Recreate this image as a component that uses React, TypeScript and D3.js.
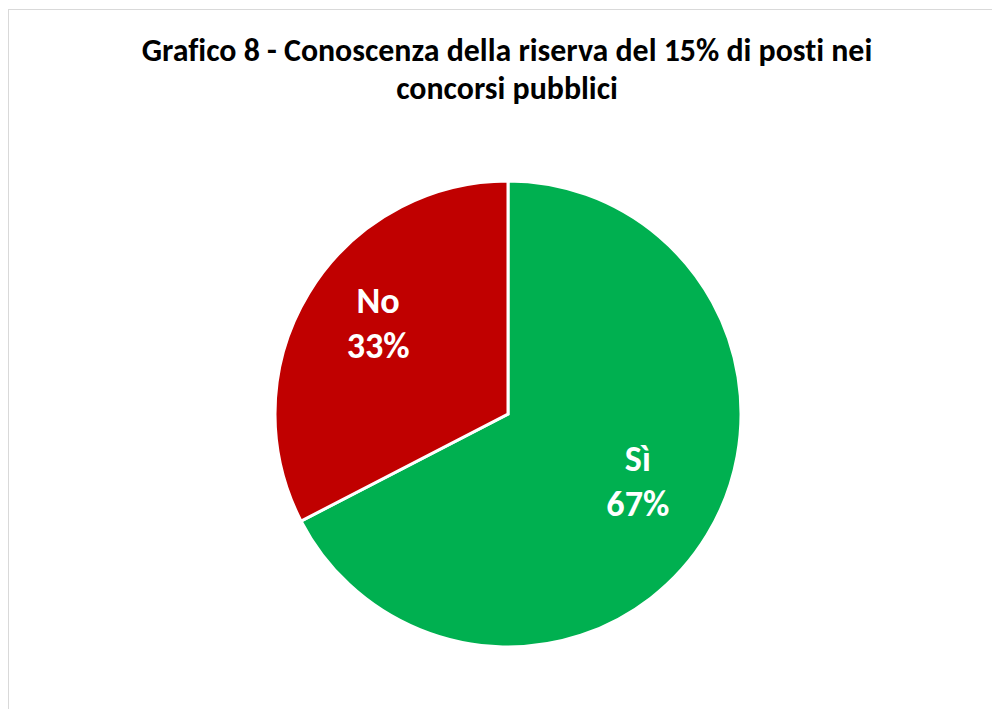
import React, { useLayoutEffect, useRef, useState } from "react";
import * as d3 from "d3";

const categories = ["Sì", "No"];
const values = [67.4, 32.6];
const colors = ["#00B050", "#C00000"];
const titleLines = [
  "Grafico 8 - Conoscenza della riserva del 15% di posti nei",
  "concorsi pubblici",
];

const W = 992;
const H = 709;
const FONT = "Carlito, Calibri, Lato, 'Open Sans', sans-serif";

export default function App() {
  const titleRef = useRef<SVGTextElement>(null);
  const labelRef = useRef<SVGTextElement>(null);
  const [titleSize, setTitleSize] = useState(27);
  const [labelSize, setLabelSize] = useState(34);

  useLayoutEffect(() => {
    document.body.style.margin = "0";
    if (titleRef.current) {
      const w = titleRef.current.getComputedTextLength();
      if (w > 0) {
        const s = (27 * 731) / w;
        if (Math.abs(s - titleSize) > 0.05) setTitleSize(s);
      }
    }
    if (labelRef.current) {
      const w = labelRef.current.getComputedTextLength();
      if (w > 0) {
        const s = (34 * 63) / w;
        if (Math.abs(s - labelSize) > 0.05) setLabelSize(s);
      }
    }
  }, []);

  const cx = 508;
  const cy = 414;
  const R = 233;
  const total = d3.sum(values);
  const data = categories.map((c, i) => ({ c, v: values[i], color: colors[i] }));
  const pie = d3.pie<any>().value((d) => d.v).sort(null);
  const arcs = pie(data);
  const arc = d3.arc<any>().innerRadius(0).outerRadius(R);
  const labelArc = d3.arc<any>().innerRadius(152).outerRadius(152);
  const noLig = { fontVariantLigatures: "none" as const };

  return (
    <svg width={W} height={H} style={{ display: "block" }}>
      <rect x={0} y={0} width={W} height={H} fill="#fff" />
      <rect x={8.5} y={9.5} width={W + 10} height={H + 10} fill="none" stroke="#d9d9d9" strokeWidth={1} />
      <g fontFamily={FONT} fontWeight="bold" fill="#000" textAnchor="middle" style={noLig}>
        <text ref={titleRef} x={507} y={61} fontSize={27} visibility="hidden">{titleLines[0]}</text>
        <text x={507} y={61} fontSize={titleSize}>{titleLines[0]}</text>
        <text x={507} y={99} fontSize={titleSize}>{titleLines[1]}</text>
      </g>
      <g transform={`translate(${cx},${cy})`}>
        {arcs.map((a, i) => (
          <path key={i} d={arc(a) as string} fill={a.data.color} stroke="#fff" strokeWidth={3} strokeLinejoin="miter" />
        ))}
        <text ref={labelRef} fontFamily={FONT} fontWeight="bold" fontSize={34} visibility="hidden">33%</text>
        {arcs.map((a, i) => {
          const [lx, ly] = labelArc.centroid(a);
          const pct = Math.round((a.data.v / total) * 100) + "%";
          return (
            <g key={"l" + i} fontFamily={FONT} fontWeight="bold" fontSize={labelSize} fill="#fff" textAnchor="middle" style={noLig}>
              <text x={lx} y={ly - 22}>{a.data.c}</text>
              <text x={lx} y={ly + 23}>{pct}</text>
            </g>
          );
        })}
      </g>
    </svg>
  );
}
